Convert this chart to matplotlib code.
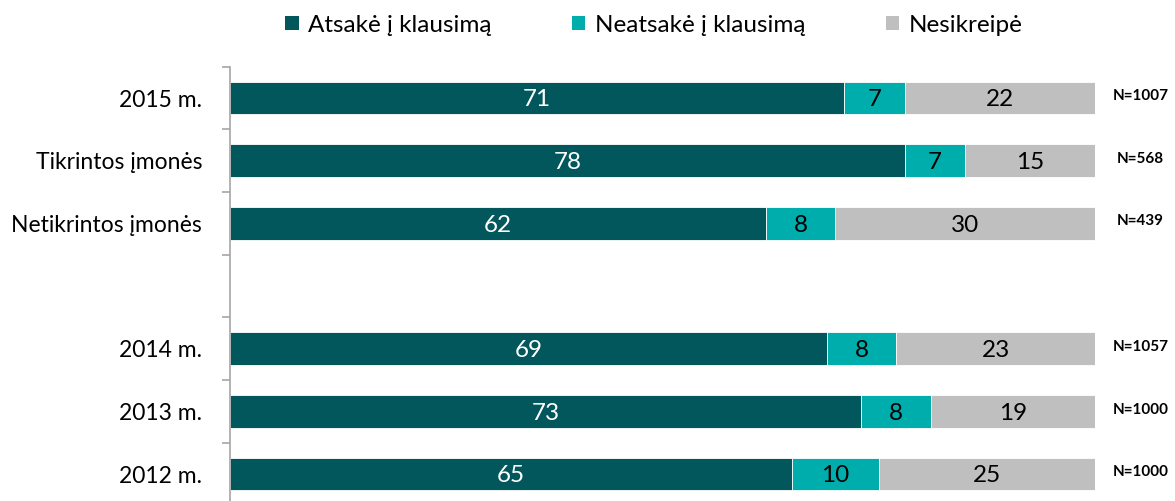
import matplotlib
matplotlib.use("Agg")
import matplotlib.pyplot as plt
from matplotlib.patches import Patch
import numpy as np

plt.rcParams['font.family'] = ['Lato', 'DejaVu Sans']

categories = ["2015 m.", "Tikrintos įmonės", "Netikrintos įmonės", "", "2014 m.", "2013 m.", "2012 m."]
answered = [71, 78, 62, None, 69, 73, 65]
not_answered = [7, 7, 8, None, 8, 8, 10]
not_applied = [22, 15, 30, None, 23, 19, 25]
n_labels = ["N=1007", "N=568", "N=439", "", "N=1057", "N=1000", "N=1000"]
series_names = ["Atsakė į klausimą", "Neatsakė į klausimą", "Nesikreipė"]
colors = ["#02575C", "#00ADAD", "#BFBFBF"]
text_colors = ["white", "black", "black"]

fig = plt.figure(figsize=(11.75, 5.01), dpi=100)
ax = fig.add_axes([230/1175, -0.0088, (1095-230)/1175, 0.8757])

y = np.arange(len(categories))
series = [answered, not_answered, not_applied]
left = np.zeros(len(categories))
for s, col, tc in zip(series, colors, text_colors):
    vals = np.array([v if v is not None else 0 for v in s], dtype=float)
    ax.barh(y, vals, left=left, height=0.52, color=col, edgecolor='white', linewidth=0.6)
    for i, v in enumerate(s):
        if v is not None:
            ax.text(left[i] + v/2, y[i] + 0.03, str(v), ha='center', va='center',
                    color=tc, fontsize=17.5)
    left += vals

for i, lab in enumerate(n_labels):
    if lab:
        ax.text(1.0526, y[i] - 0.03, lab, transform=ax.get_yaxis_transform(), ha='center', va='center',
                fontsize=11, fontweight='bold')

ax.set_xlim(0, 100)
ax.set_ylim(len(categories) - 0.5, -0.5)
ax.set_yticks(y)
ax.set_yticklabels(categories, fontsize=16.5)
ax.set_yticks(np.arange(-0.5, len(categories)), minor=True)
ax.tick_params(axis='y', which='major', length=0, pad=20)
ax.tick_params(axis='y', which='minor', length=6, color='#A6A6A6', width=1.2)
ax.set_xticks([])
for sp in ['top', 'right', 'bottom']:
    ax.spines[sp].set_visible(False)
ax.spines['left'].set_color('#A6A6A6')
ax.spines['left'].set_linewidth(1.2)

handles = [Patch(facecolor=c, edgecolor='none') for c in colors]
fig.legend(handles, series_names, loc='center', bbox_to_anchor=(654/1175, 1 - 25/501),
           ncol=3, frameon=False, fontsize=17.5, handlelength=0.55, handleheight=0.55,
           handletextpad=0.4, columnspacing=3.3)

fig.savefig("out.png", dpi=100)
